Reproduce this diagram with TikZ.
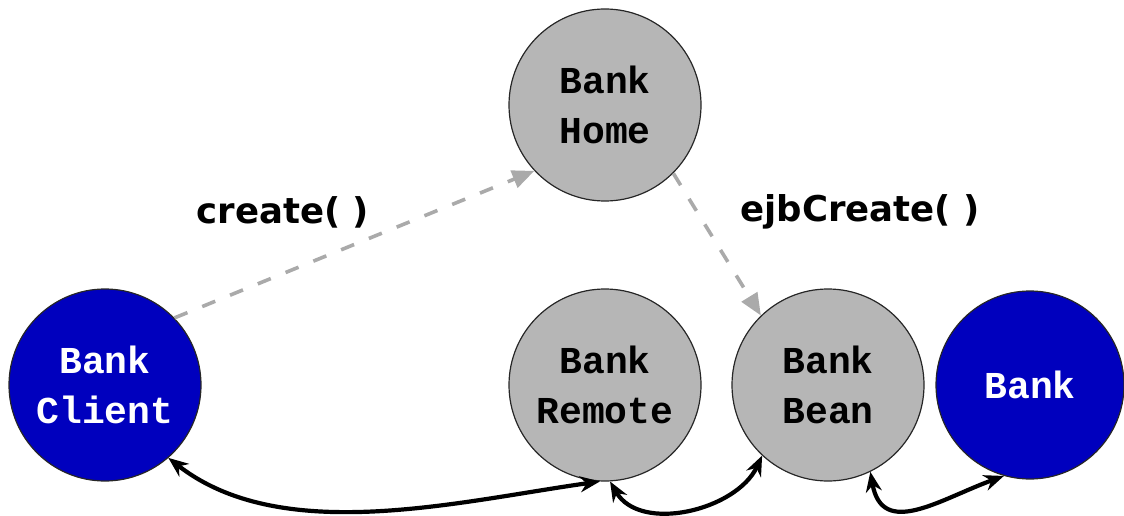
\documentclass[tikz,border=0pt]{standalone}
\usepackage{fontspec}
\setmainfont{DejaVu Sans}
\newfontfamily\monof{Liberation Mono}
\usetikzlibrary{arrows.meta}
\definecolor{nodeblue}{RGB}{0,0,190}
\definecolor{nodegray}{RGB}{182,182,182}
\definecolor{dashgray}{RGB}{170,170,170}
\begin{document}
\begin{tikzpicture}[x=1pt,y=1pt,
 bubble/.style={circle, draw=black!85, line width=1.2pt, minimum size=192pt, inner sep=0pt, align=center, font=\monof\bfseries\fontsize{38}{50}\selectfont},
 grayb/.style={bubble, fill=nodegray, text=black},
 blueb/.style={bubble, fill=nodeblue, text=white},
 call/.style={draw=dashgray, line width=3.6pt, dash pattern=on 14pt off 16pt, -{Triangle[length=22pt,width=18pt,fill=dashgray]}},
 link/.style={draw=black, line width=4.2pt, {Stealth[length=20pt,width=16pt]}-{Stealth[length=20pt,width=16pt]}},
 lbl/.style={font=\bfseries\fontsize{35.5}{40}\selectfont}]
\useasboundingbox (0,0) rectangle (1124,515);
\node[grayb] (home) at (605,410) {Bank\\Home};
\node[blueb] (client) at (105,130) {Bank\\Client};
\node[grayb] (remote) at (605,130) {Bank\\Remote};
\node[grayb] (bean) at (828,130) {Bank\\Bean};
\node[blueb, minimum size=188pt] (bank) at (1030,130) {Bank};
\node[lbl] (lcreate) at (283,303) {create( )};
\node[lbl] (lejb) at (860,303) {ejbCreate( )};
\draw[call] (client.44) -- (home.-137);
\draw[call] (home.-45) -- (bean.134);
\draw[link] (client.-49) to[out=-38,in=188,looseness=0.85] (remote.-93);
\draw[link] (remote.-87) to[out=-60,in=-115] (bean.-133);
\draw[link] (bean.-64) to[out=-80,in=200,looseness=1.3] (bank.-106);
\end{tikzpicture}
\end{document}
